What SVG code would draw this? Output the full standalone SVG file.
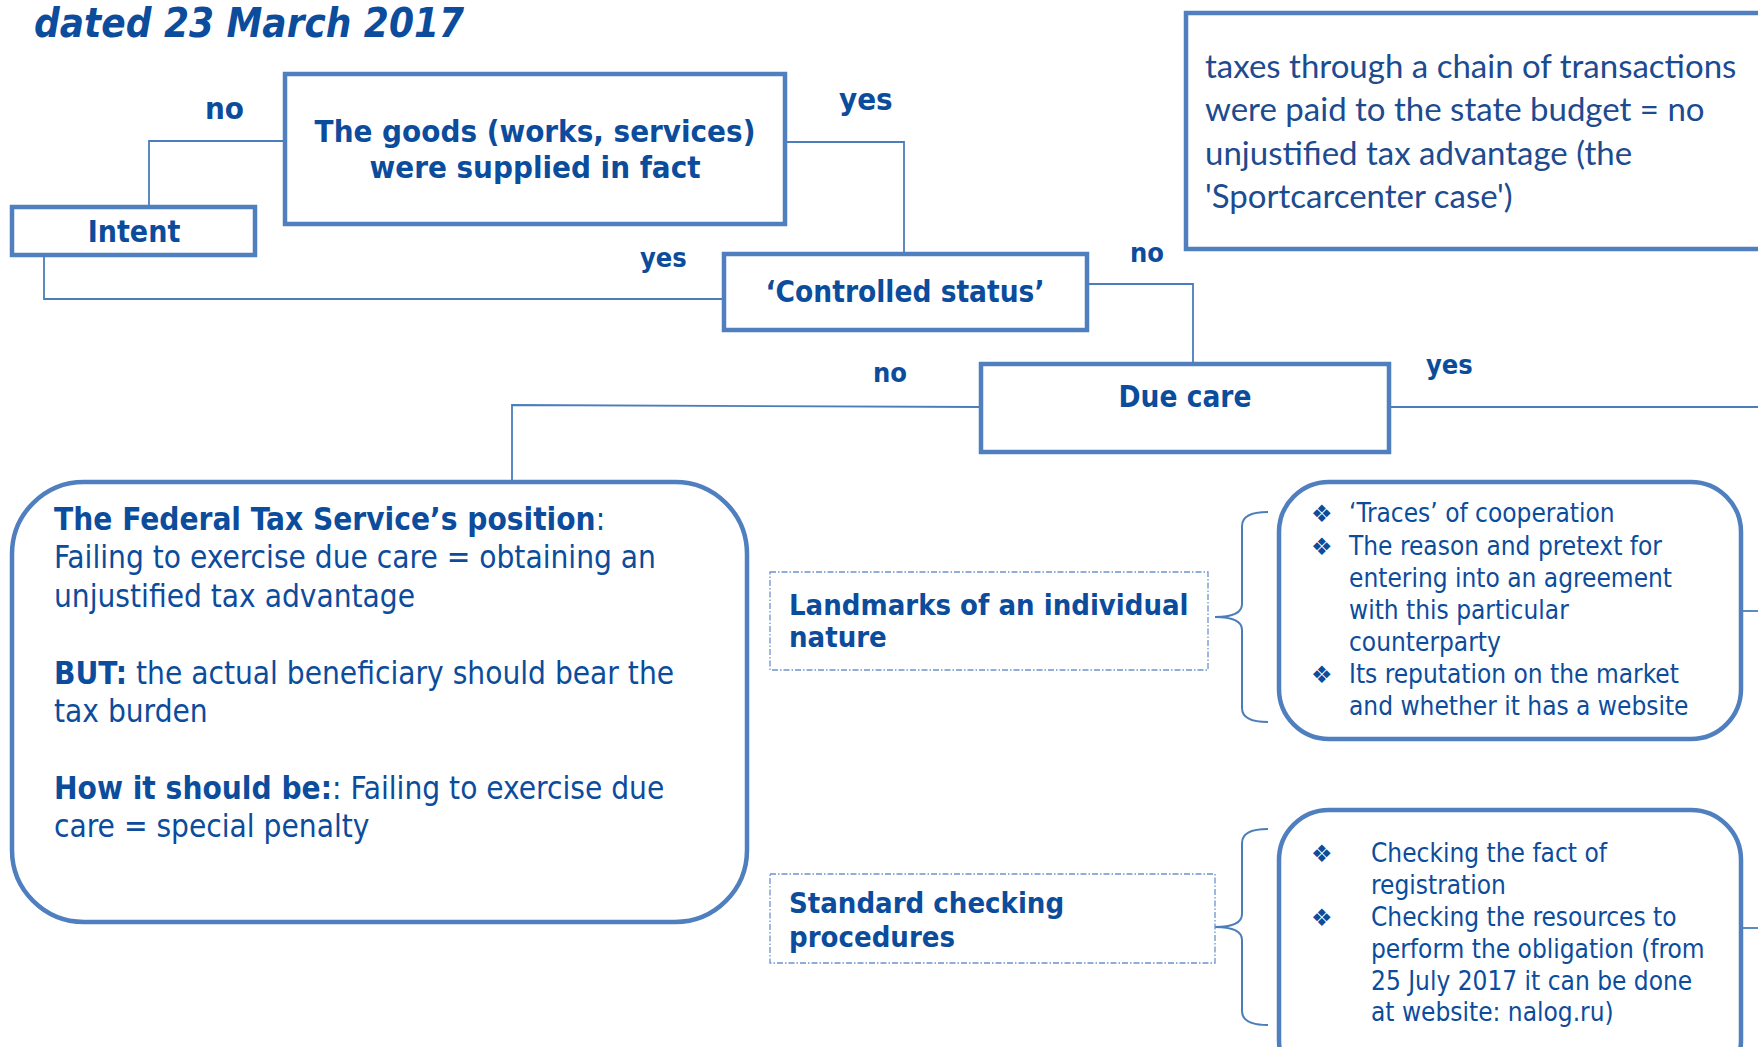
<svg xmlns="http://www.w3.org/2000/svg" width="1758" height="1047" viewBox="0 0 1758 1047">
  <style>
    .t { font-family: "DejaVu Sans Condensed", "DejaVu Sans", sans-serif; font-stretch: condensed; fill: #0c4c9c; }
    .b { font-weight: bold; }
    .box { fill: #ffffff; stroke: #4f7fbe; stroke-width: 4.5; }
    .dash { fill: #ffffff; stroke: #6f93cc; stroke-width: 1.3; stroke-dasharray: 6 2 1.5 2; }
    .conn { fill: none; stroke: #4a7ebb; stroke-width: 1.8; }
    .brace { fill: none; stroke: #4a7ebb; stroke-width: 2; }
    .cal { font-family: Lato, "Open Sans", sans-serif; fill: #1d4b8f; font-size: 33px; }
    .bul { font-family: "DejaVu Sans", sans-serif; font-size: 24px; fill: #0c4c9c; }
  </style>
  <rect width="1758" height="1047" fill="#ffffff"/>

  <!-- heading -->
  <text class="t b" x="34" y="37" font-size="40" font-style="italic">dated 23 March 2017</text>

  <!-- connectors and branch labels -->
  <g id="connectors">
    <path class="conn" d="M285 141 H149 V206"/>
    <path class="conn" d="M785 142 H904 V252"/>
    <path class="conn" d="M44 256 V299 H723"/>
    <path class="conn" d="M1088 284 H1193 V363"/>
    <path class="conn" d="M980 407 L512 405 V482"/>
    <path class="conn" d="M1390 407 H1758"/>
    <path class="conn" d="M1741 611 H1758"/>
    <path class="conn" d="M1741 928 H1758"/>
    <path class="brace" d="M1268 512 Q1242 512 1242 526 V604 Q1242 617 1215 617 Q1242 617 1242 630 V708 Q1242 722 1268 722"/>
    <path class="brace" d="M1268 829 Q1242 829 1242 843 V914 Q1242 927 1215 927 Q1242 927 1242 940 V1011 Q1242 1025 1268 1025"/>
    <text class="t b" x="205" y="119" font-size="31">no</text>
    <text class="t b" x="839" y="110" font-size="31">yes</text>
    <text class="t b" x="640" y="267" font-size="27">yes</text>
    <text class="t b" x="1130" y="262" font-size="27">no</text>
    <text class="t b" x="873" y="382" font-size="27">no</text>
    <text class="t b" x="1426" y="374" font-size="27">yes</text>
  </g>

  <g id="goods">
    <rect class="box" x="285" y="74" width="500" height="150"/>
    <text class="t b" x="535" y="142" font-size="31" text-anchor="middle">The goods (works, services)</text>
    <text class="t b" x="535" y="178" font-size="31" text-anchor="middle">were supplied in fact</text>
  </g>

  <g id="intent">
    <rect class="box" x="12" y="207" width="243" height="48"/>
    <text class="t b" x="134" y="242" font-size="30" text-anchor="middle">Intent</text>
  </g>

  <g id="controlled">
    <rect class="box" x="724" y="254" width="363" height="76"/>
    <text class="t b" x="905" y="302" font-size="29.5" text-anchor="middle">‘Controlled status’</text>
  </g>

  <g id="due-care">
    <rect class="box" x="981" y="364" width="408" height="88"/>
    <text class="t b" x="1185" y="407" font-size="29.5" text-anchor="middle">Due care</text>
  </g>

  <g id="sportcarcenter">
    <rect class="box" x="1186" y="13" width="600" height="236"/>
    <text class="cal" x="1205" y="78">taxes through a chain of transactions</text>
    <text class="cal" x="1205" y="121">were paid to the state budget = no</text>
    <text class="cal" x="1205" y="165">unjustified tax advantage (the</text>
    <text class="cal" x="1205" y="208">'Sportcarcenter case')</text>
  </g>

  <g id="fts-position">
    <rect class="box" x="12" y="482" width="735" height="440" rx="72" ry="72"/>
    <text class="t" x="54" y="530" font-size="31.3"><tspan class="b">The Federal Tax Service’s position</tspan>:</text>
    <text class="t" x="54" y="568" font-size="31.3">Failing to exercise due care = obtaining an</text>
    <text class="t" x="54" y="607" font-size="31.3">unjustified tax advantage</text>
    <text class="t" x="54" y="684" font-size="31.3"><tspan class="b">BUT:</tspan> the actual beneficiary should bear the</text>
    <text class="t" x="54" y="722" font-size="31.3">tax burden</text>
    <text class="t" x="54" y="799" font-size="31.3"><tspan class="b">How it should be:</tspan>: Failing to exercise due</text>
    <text class="t" x="54" y="837" font-size="31.3">care = special penalty</text>
  </g>

  <g id="landmarks">
    <rect class="dash" x="770" y="572" width="438" height="98"/>
    <text class="t b" x="789" y="615" font-size="29">Landmarks of an individual</text>
    <text class="t b" x="789" y="647" font-size="29">nature</text>
  </g>

  <g id="landmarks-list">
    <rect class="box" x="1279" y="482" width="462" height="257" rx="50" ry="50"/>
    <text class="bul" x="1311" y="522">❖</text>
    <text class="bul" x="1311" y="555">❖</text>
    <text class="bul" x="1311" y="683">❖</text>
    <text class="t" x="1349" y="522" font-size="26">‘Traces’ of cooperation</text>
    <text class="t" x="1349" y="555" font-size="26">The reason and pretext for</text>
    <text class="t" x="1349" y="587" font-size="26">entering into an agreement</text>
    <text class="t" x="1349" y="619" font-size="26">with this particular</text>
    <text class="t" x="1349" y="651" font-size="26">counterparty</text>
    <text class="t" x="1349" y="683" font-size="26">Its reputation on the market</text>
    <text class="t" x="1349" y="715" font-size="26">and whether it has a website</text>
  </g>

  <g id="standard-checks">
    <rect class="dash" x="770" y="874" width="445" height="89"/>
    <text class="t b" x="789" y="913" font-size="29">Standard checking</text>
    <text class="t b" x="789" y="947" font-size="29">procedures</text>
  </g>

  <g id="standard-checks-list">
    <rect class="box" x="1279" y="810" width="462" height="280" rx="50" ry="50"/>
    <text class="bul" x="1311" y="862">❖</text>
    <text class="bul" x="1311" y="926">❖</text>
    <text class="t" x="1371" y="862" font-size="26">Checking the fact of</text>
    <text class="t" x="1371" y="894" font-size="26">registration</text>
    <text class="t" x="1371" y="926" font-size="26">Checking the resources to</text>
    <text class="t" x="1371" y="958" font-size="26">perform the obligation (from</text>
    <text class="t" x="1371" y="990" font-size="26">25 July 2017 it can be done</text>
    <text class="t" x="1371" y="1021" font-size="26">at website: nalog.ru)</text>
  </g>
</svg>
